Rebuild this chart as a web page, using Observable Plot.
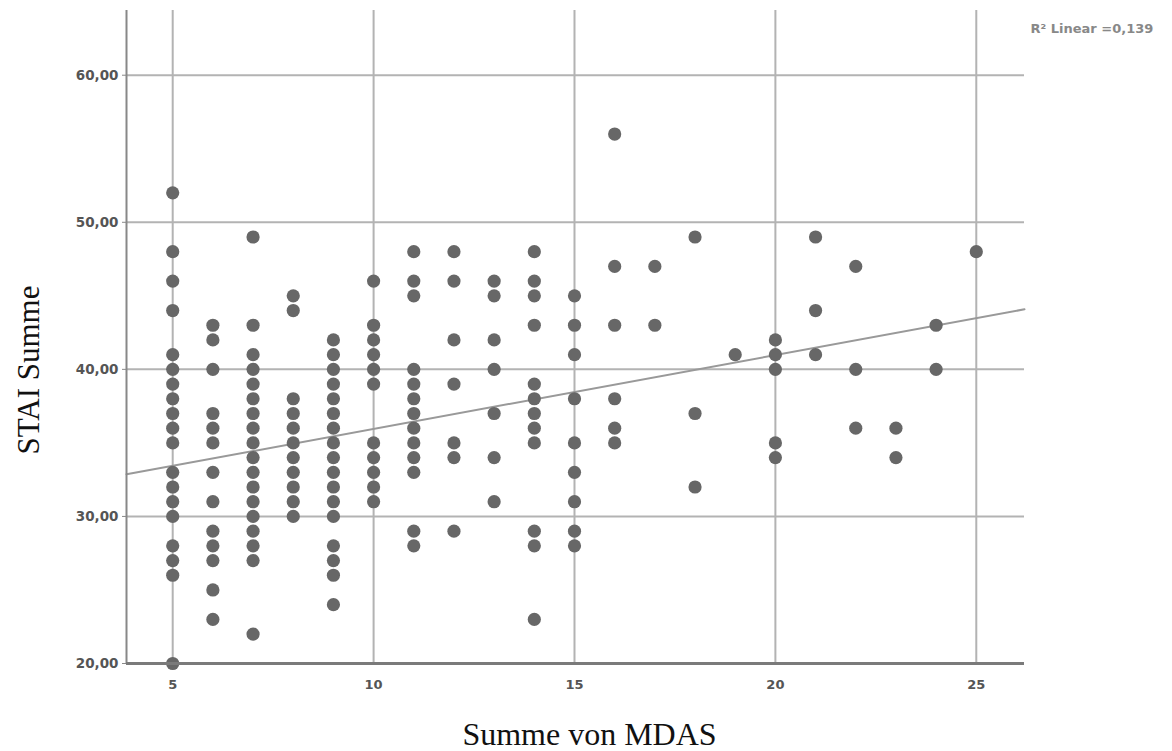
<!DOCTYPE html>
<html>
<head>
<meta charset="utf-8">
<script src="https://cdn.jsdelivr.net/npm/d3@7"></script>
<script src="https://cdn.jsdelivr.net/npm/@observablehq/plot@0.6"></script>
<style>
  html, body { margin: 0; padding: 0; background: #fff; }
  #chart svg { display: block; }
</style>
</head>
<body>
<div id="chart"></div>
<script>
// MDAS sum (x) and the STAI sums observed at each x
const mdasValues = [5, 6, 7, 8, 9, 10, 11, 12, 13, 14, 15, 16, 17, 18, 19, 20, 21, 22, 23, 24, 25];
const staiAt5  = [52, 48, 46, 44, 41, 40, 39, 38, 37, 36, 35, 33, 32, 31, 30, 28, 27, 26, 20];
const staiAt6  = [43, 42, 40, 37, 36, 35, 33, 31, 29, 28, 27, 25, 23];
const staiAt7  = [49, 43, 41, 40, 39, 38, 37, 36, 35, 34, 33, 32, 31, 30, 29, 28, 27, 22];
const staiAt8  = [45, 44, 38, 37, 36, 35, 34, 33, 32, 31, 30];
const staiAt9  = [42, 41, 40, 39, 38, 37, 36, 35, 34, 33, 32, 31, 30, 28, 27, 26, 24];
const staiAt10 = [46, 43, 42, 41, 40, 39, 35, 34, 33, 32, 31];
const staiAt11 = [48, 46, 45, 40, 39, 38, 37, 36, 35, 34, 33, 29, 28];
const staiAt12 = [48, 46, 42, 39, 35, 34, 29];
const staiAt13 = [46, 45, 42, 40, 37, 34, 31];
const staiAt14 = [48, 46, 45, 43, 39, 38, 37, 36, 35, 29, 28, 23];
const staiAt15 = [45, 43, 41, 38, 35, 33, 31, 29, 28];
const staiAt16 = [56, 47, 43, 38, 36, 35];
const staiAt17 = [47, 43];
const staiAt18 = [49, 37, 32];
const staiAt19 = [41];
const staiAt20 = [42, 41, 40, 35, 34];
const staiAt21 = [49, 44, 41];
const staiAt22 = [47, 40, 36];
const staiAt23 = [36, 34];
const staiAt24 = [43, 40];
const staiAt25 = [48];

// linear fit (R² = 0,139)
const fitIntercept = 30.93;
const fitSlope = 0.502;

const xTicks = [5, 10, 15, 20, 25];
const yTicks = [20, 30, 40, 50, 60];
const xDomain = [3.85, 26.2];
const yDomain = [20, 64.4];
const xTitle = "Summe von MDAS";
const yTitle = "STAI Summe";
const fitLabel = "R\u00B2 Linear =0,139";

const staiColumns = [staiAt5, staiAt6, staiAt7, staiAt8, staiAt9, staiAt10, staiAt11, staiAt12,
  staiAt13, staiAt14, staiAt15, staiAt16, staiAt17, staiAt18, staiAt19, staiAt20, staiAt21,
  staiAt22, staiAt23, staiAt24, staiAt25];

const points = mdasValues.flatMap((m, i) => staiColumns[i].map(s => ({mdas: m, stai: s})));
const fitLine = xDomain.map(x => ({mdas: x, stai: fitIntercept + fitSlope * x}));

const fmtY = d => d.toFixed(2).replace(".", ",");

const chart = Plot.plot({
  width: 1172,
  height: 751,
  marginLeft: 126,
  marginRight: 148,
  marginTop: 10,
  marginBottom: 88,
  style: {fontFamily: "DejaVu Sans", fontSize: "13.5px", fontWeight: "bold", color: "#555", background: "#fff"},
  x: {domain: xDomain},
  y: {domain: yDomain},
  marks: [
    Plot.gridX(xTicks, {stroke: "#b3b3b3", strokeOpacity: 1, strokeWidth: 2}),
    Plot.gridY(yTicks.slice(1), {stroke: "#b3b3b3", strokeOpacity: 1, strokeWidth: 2}),
    Plot.line(fitLine, {x: "mdas", y: "stai", stroke: "#999", strokeWidth: 2}),
    Plot.dot(points, {x: "mdas", y: "stai", r: 6.6, fill: "#676767", stroke: "none"}),
    Plot.ruleX([xDomain[0]], {stroke: "#888", strokeWidth: 2}),
    Plot.ruleY([yDomain[0]], {stroke: "#7a7a7a", strokeWidth: 3}),
    Plot.axisY(yTicks, {tickFormat: fmtY, tickSize: 4, tickPadding: 4, stroke: "#888", label: null, fill: "#555", fontSize: 13.5}),
    Plot.axisX(xTicks, {tickSize: 0, tickPadding: 16, label: null, fill: "#555", fontSize: 13}),
    Plot.text([xTitle], {frameAnchor: "bottom", lineAnchor: "middle", dy: 71, dx: 14,
      fontFamily: "Liberation Serif", fontWeight: "normal", fontSize: 32, fill: "#111"}),
    Plot.text([yTitle], {frameAnchor: "left", lineAnchor: "middle", textAnchor: "middle", rotate: -90, dx: -97, dy: 33,
      fontFamily: "Liberation Serif", fontWeight: "normal", fontSize: 31, fill: "#111"}),
    Plot.text([fitLabel], {frameAnchor: "top-right", lineAnchor: "middle", textAnchor: "start", dx: 6, dy: 18,
      fontFamily: "DejaVu Sans", fontWeight: "bold", fontSize: 13, fill: "#888"})
  ]
});
document.getElementById("chart").appendChild(chart);
</script>
</body>
</html>
